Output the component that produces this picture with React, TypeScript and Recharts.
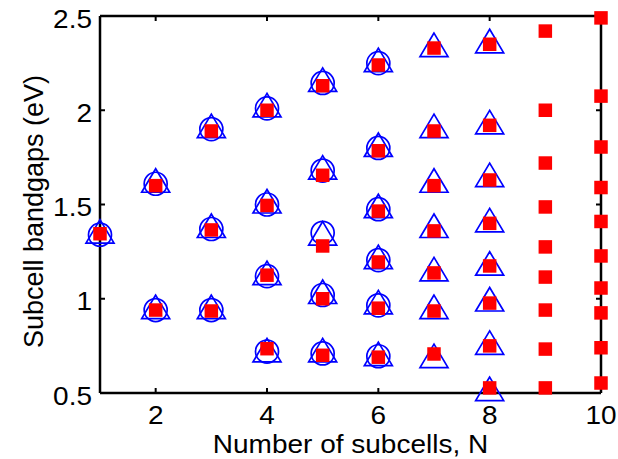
import React from "react";
import { ScatterChart, Scatter, XAxis, YAxis, Label, ReferenceLine } from "recharts";

// subcell bandgaps (eV), index = N - 1
const squareGaps: number[][] = [
  [1.345],
  [1.6, 0.94],
  [1.89, 1.365, 0.935],
  [2.0, 1.495, 1.125, 0.735],
  [2.13, 1.655, 1.28, 1.0, 0.7],
  [2.24, 1.785, 1.465, 1.195, 0.95, 0.69],
  [2.33, 1.89, 1.6, 1.36, 1.137, 0.935, 0.707],
  [2.35, 1.92, 1.63, 1.4, 1.174, 0.977, 0.75, 0.527],
  [2.42, 2.0, 1.72, 1.487, 1.275, 1.115, 0.94, 0.733, 0.527],
  [2.49, 2.075, 1.805, 1.59, 1.41, 1.227, 1.057, 0.925, 0.74, 0.553],
];

const circleGaps: number[][] = [
  [1.34],
  [1.61, 0.94],
  [1.9, 1.37, 0.94],
  [2.01, 1.5, 1.12, 0.72],
  [2.145, 1.68, 1.35, 1.02, 0.71],
  [2.25, 1.8, 1.475, 1.205, 0.965, 0.695],
];

const triangleGaps: number[][] = [
  [1.34],
  [1.61, 0.94],
  [1.9, 1.37, 0.94],
  [2.01, 1.5, 1.12, 0.71],
  [2.145, 1.68, 1.33, 1.02, 0.71],
  [2.25, 1.8, 1.475, 1.205, 0.965, 0.69],
  [2.33, 1.9, 1.61, 1.37, 1.14, 0.94, 0.68],
  [2.35, 1.92, 1.64, 1.4, 1.17, 0.98, 0.75, 0.505],
];

const xTicks = [2, 4, 6, 8, 10];
const yTicks = [0.5, 1, 1.5, 2, 2.5];
const X_MIN = 1;
const X_MAX = 10;
const Y_MIN = 0.5;
const Y_MAX = 2.5;

const toPoints = (rows: number[][]) =>
  rows.flatMap((vals, i) => vals.map((eg) => ({ n: i + 1, eg })));

const FONT = "'Liberation Sans', Arial, sans-serif";
const BLUE = "#0000ff";
const RED = "#ff0000";
const TICK = 5;

const XTick = ({ x, y, payload }: any) => (
  <g transform={`translate(${x},${y + 31}) scale(1,0.9)`}>
    <text textAnchor="middle" fontFamily={FONT} fontSize={28} fill="#000" stroke="none">
      {payload.value}
    </text>
  </g>
);

const YTick = ({ x, y, payload }: any) => (
  <g transform={`translate(${x - 8},${y + 11.5}) scale(1,0.9)`}>
    <text textAnchor="end" fontFamily={FONT} fontSize={28} fill="#000" stroke="none">
      {payload.value}
    </text>
  </g>
);

// inward tick marks, placed on the frame through the chart scales
const UpTick = ({ cx, cy }: any) => (
  <line x1={cx} x2={cx} y1={cy - TICK} y2={cy} stroke="#000" strokeWidth={2} />
);
const DownTick = ({ cx, cy }: any) => (
  <line x1={cx} x2={cx} y1={cy} y2={cy + TICK} stroke="#000" strokeWidth={2} />
);
const RightwardTick = ({ cx, cy }: any) => (
  <line x1={cx} x2={cx + TICK} y1={cy} y2={cy} stroke="#000" strokeWidth={2} />
);
const LeftwardTick = ({ cx, cy }: any) => (
  <line x1={cx - TICK} x2={cx} y1={cy} y2={cy} stroke="#000" strokeWidth={2} />
);

const Circle = ({ cx, cy }: any) => (
  <circle cx={cx} cy={cy} r={11.5} fill="none" stroke={BLUE} strokeWidth={1.7} />
);

const Triangle = ({ cx, cy }: any) => (
  <polygon
    points={`${cx},${cy - 15} ${cx - 14},${cy + 8.5} ${cx + 14},${cy + 8.5}`}
    fill="none"
    stroke={BLUE}
    strokeWidth={1.7}
  />
);

const Square = ({ cx, cy }: any) => (
  <rect x={cx - 6.75} y={cy - 6.75} width={13.5} height={13.5} fill={RED} />
);

export default function App() {
  return (
    <div style={{ position: "absolute", left: 0, top: 0, background: "#fff" }}>
      <ScatterChart width={618} height={459} margin={{ top: 16, right: 17, bottom: 6, left: 20 }}>
        <XAxis
          xAxisId="b"
          type="number"
          dataKey="n"
          domain={[X_MIN, X_MAX]}
          ticks={xTicks}
          height={60}
          axisLine={false}
          tickLine={false}
          tickSize={0}
          tickMargin={0}
          tick={<XTick />}
        >
          <Label
            content={({ viewBox }: any) => (
              <g transform={`translate(${viewBox.x + viewBox.width / 2},${viewBox.y + 60}) scale(1,0.9)`}>
                <text textAnchor="middle" fontFamily={FONT} fontSize={28} fill="#000">
                  Number of subcells, N
                </text>
              </g>
            )}
          />
        </XAxis>
        <YAxis
          yAxisId="l"
          type="number"
          dataKey="eg"
          domain={[Y_MIN, Y_MAX]}
          ticks={yTicks}
          width={80}
          axisLine={false}
          tickLine={false}
          tickSize={0}
          tickMargin={0}
          tick={<YTick />}
        >
          <Label
            content={({ viewBox }: any) => (
              <text
                transform={`translate(43,${viewBox.y + viewBox.height / 2 + 7}) rotate(-90)`}
                textAnchor="middle"
                fontFamily={FONT}
                fontSize={27}
                fill="#000"
              >
                Subcell bandgaps (eV)
              </text>
            )}
          />
        </YAxis>
        {/* axis box */}
        <ReferenceLine xAxisId="b" yAxisId="l" x={X_MIN} stroke="#000" strokeWidth={2.5} />
        <ReferenceLine xAxisId="b" yAxisId="l" x={X_MAX} stroke="#000" strokeWidth={2.5} />
        <ReferenceLine xAxisId="b" yAxisId="l" y={Y_MIN} stroke="#000" strokeWidth={2.5} />
        <ReferenceLine xAxisId="b" yAxisId="l" y={Y_MAX} stroke="#000" strokeWidth={2.5} />
        <Scatter xAxisId="b" yAxisId="l" data={xTicks.map((n) => ({ n, eg: Y_MIN }))} shape={<UpTick />} isAnimationActive={false} />
        <Scatter xAxisId="b" yAxisId="l" data={xTicks.map((n) => ({ n, eg: Y_MAX }))} shape={<DownTick />} isAnimationActive={false} />
        <Scatter xAxisId="b" yAxisId="l" data={yTicks.map((eg) => ({ n: X_MIN, eg }))} shape={<RightwardTick />} isAnimationActive={false} />
        <Scatter xAxisId="b" yAxisId="l" data={yTicks.map((eg) => ({ n: X_MAX, eg }))} shape={<LeftwardTick />} isAnimationActive={false} />
        <Scatter
          xAxisId="b"
          yAxisId="l"
          data={toPoints(circleGaps)}
          shape={<Circle />}
          isAnimationActive={false}
        />
        <Scatter
          xAxisId="b"
          yAxisId="l"
          data={toPoints(triangleGaps)}
          shape={<Triangle />}
          isAnimationActive={false}
        />
        <Scatter
          xAxisId="b"
          yAxisId="l"
          data={toPoints(squareGaps)}
          shape={<Square />}
          isAnimationActive={false}
        />
      </ScatterChart>
    </div>
  );
}
